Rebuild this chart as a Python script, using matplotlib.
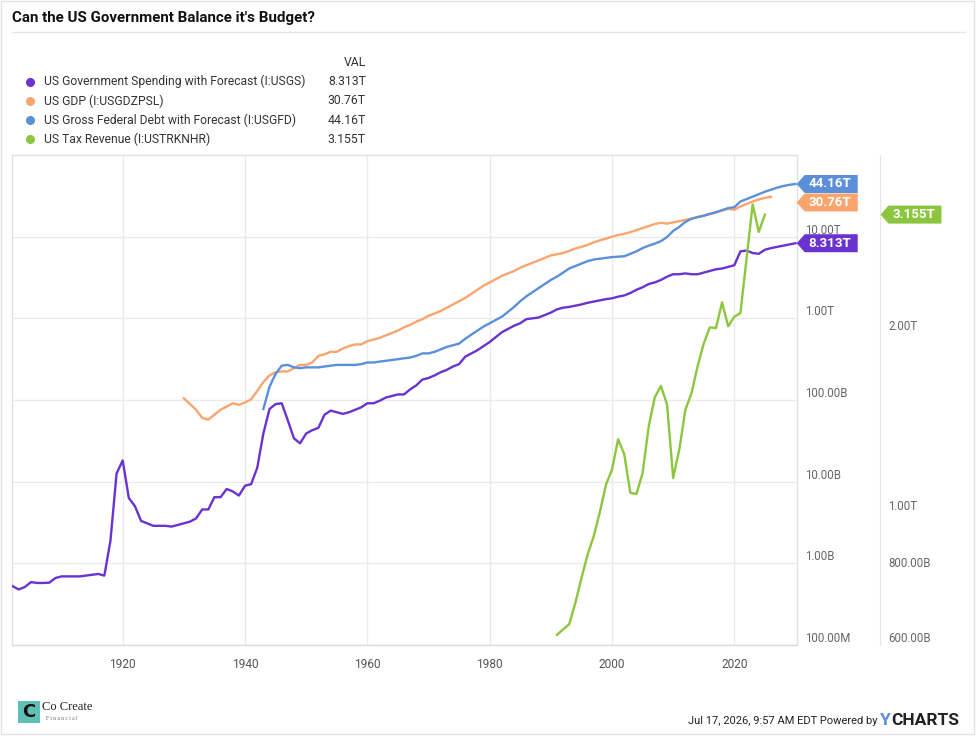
import numpy as np
import matplotlib
matplotlib.use("Agg")
import matplotlib.pyplot as plt
from matplotlib.patches import Polygon, Rectangle
from matplotlib.lines import Line2D
from matplotlib.ticker import FixedLocator, FuncFormatter, NullLocator

plt.rcParams['font.family'] = ['Roboto', 'DejaVu Sans']

# -----------------------------------------------------------------
# Donnees (en milliards de USD)
# -----------------------------------------------------------------
spend_years = list(range(1902, 2031))
spend_b = [
    0.525, 0.479, 0.513, 0.589, 0.575, 0.575, 0.58, 0.661,                 # 1902-1909
    0.692, 0.692, 0.692, 0.692, 0.708, 0.724, 0.741, 0.708, 1.905, 12.6,   # 1910s
    18.2, 6.31, 5.01, 3.31, 3.09, 2.88, 2.88, 2.88, 2.82, 2.95,            # 1920s
    3.09, 3.24, 3.55, 4.57, 4.57, 6.46, 6.46, 8.13, 7.59, 6.76,            # 1930s
    8.91, 9.33, 14.8, 38.9, 77.6, 89.1, 91.2, 56.2, 33.9, 29.5,            # 1940s
    38.9, 42.7, 45.7, 66.1, 74.1, 70.8, 67.6, 70.8, 75.9, 81.3,            # 1950s
    91.2, 91.2, 97.7, 107, 112, 117, 117, 135, 151, 178,                   # 1960s
    186, 200, 219, 234, 257, 275, 339, 372, 407, 457,                      # 1970s
    513, 589, 676, 741, 813, 871, 977, 1000, 1023, 1096,                   # 1980s
    1175, 1288, 1349, 1380, 1429, 1479, 1549, 1603, 1660, 1718,            # 1990s
    1758, 1841, 1905, 2042, 2239, 2399, 2630, 2754, 2951, 3236,            # 2000s
    3467, 3467, 3548, 3467, 3467, 3631, 3802, 3981, 4074, 4266,            # 2010s
    4467, 6607, 6761, 6310, 6166, 6918, 7244, 7499, 7762, 8035, 8313,      # 2020-2030
]

gdp_years = list(range(1930, 2027))
gdp_b = [
    104.7, 89.1, 75.9, 60.3, 57.5, 66.1, 75.9, 83.2, 91.2, 87.1,
    93.3, 102, 129, 166, 200, 219, 224, 224, 245, 269,
    269, 288, 347, 363, 389, 389, 427, 457, 479, 479,
    525, 550, 575, 617, 661, 708, 776, 832, 912, 977,
    1072, 1148, 1230, 1349, 1479, 1622, 1778, 1995, 2239, 2512,
    2754, 3020, 3311, 3548, 3802, 4169, 4467, 4786, 5129, 5495,
    5888, 6095, 6310, 6683, 7161, 7499, 7943, 8511, 9016, 9441,
    10000, 10471, 10839, 11350, 12023, 12735, 13490, 14289, 14791, 14454,
    14962, 15488, 16032, 16596, 17378, 18197, 18836, 19724, 20893, 21878,
    21380, 23442, 25119, 26915, 28510, 29854, 30760,
]

debt_years = list(range(1943, 2031))
debt_b = [
    77.6, 145, 209, 263, 269, 251, 245,
    251, 251, 251, 257, 263, 269, 269, 269, 269, 275,
    288, 288, 295, 302, 309, 316, 324, 331, 347, 372,
    372, 389, 417, 447, 468, 490, 562, 631, 708, 794,
    871, 955, 1047, 1202, 1380, 1622, 1862, 2089, 2344, 2630,
    2951, 3236, 3631, 4074, 4365, 4677, 5012, 5248, 5370, 5495,
    5623, 5689, 5754, 6166, 6607, 7244, 7762, 8222, 8810, 9900,
    11749, 13183, 15136, 16596, 17378, 17989, 19055, 19953, 21135, 22387,
    22909, 26915, 28840, 30903, 33113, 35481, 37584, 39811, 41687, 43152, 44160,
]

tax_years = [1991, 1993, 1994, 1995, 1996, 1997, 1998, 1999, 2000, 2001,
             2002, 2003, 2004, 2005, 2006, 2007, 2008, 2009, 2010, 2011,
             2012, 2013, 2014, 2015, 2016, 2017, 2018, 2019, 2020, 2021,
             2023, 2024, 2025]
tax_b = [624, 650, 705, 776, 849, 912, 1000, 1112, 1180, 1327,
         1253, 1079, 1074, 1164, 1393, 1560, 1629, 1517, 1143, 1274,
         1486, 1585, 1758, 1919, 2042, 2037, 2249, 2051, 2128, 2158,
         3281, 2951, 3155]

series_names = ['US Government Spending with Forecast (I:USGS)',
                'US GDP (I:USGDZPSL)',
                'US Gross Federal Debt with Forecast (I:USGFD)',
                'US Tax Revenue (I:USTRKNHR)']
series_colors = ['#6a33cf', '#f9a56d', '#5b8fda', '#8cc63f']

left_ticks = [1e8, 1e9, 1e10, 1e11, 1e12, 1e13]
right_ticks = [6e11, 8e11, 1e12, 2e12]
year_ticks = [1920, 1940, 1960, 1980, 2000, 2020]

W, H = 976, 736


def fmt_money(v, pos=None):
    if v >= 1e12:
        return f"{v/1e12:.2f}T"
    if v >= 1e9:
        return f"{v/1e9:.2f}B"
    return f"{v/1e6:.2f}M"


def fmt_last(v):
    # 4 chiffres significatifs, en T
    t = v / 1e12
    return f"{t:.4g}T"


fig = plt.figure(figsize=(W / 100, H / 100), dpi=100)
fig.patch.set_facecolor('white')

# cadre exterieur
fig.add_artist(Rectangle((1 / W, 2 / H), 973 / W, 733 / H, fill=False,
                         edgecolor='#e4e4e4', lw=1.0, transform=fig.transFigure))

# titre + filet
fig.text(12 / W, 1 - 18 / H, "Can the US Government Balance it's Budget?",
         fontsize=10.9, fontweight='bold', color='#111111', va='center', ha='left')
fig.add_artist(Line2D([12 / W, 965 / W], [1 - 31.5 / H, 1 - 31.5 / H],
                      color='#e6e6e6', lw=1.0, transform=fig.transFigure))

# -----------------------------------------------------------------
# Axes principaux
# -----------------------------------------------------------------
ax_l, ax_r, ax_t, ax_b = 11.7, 796.7, 155, 645
ax = fig.add_axes([ax_l / W, 1 - ax_b / H, (ax_r - ax_l) / W, (ax_b - ax_t) / H])
ax.set_yscale('log')
ax.set_xlim(1901.85, 2030.2)
ax.set_ylim(1e8, 1e14)

spend = np.array(spend_b) * 1e9
gdp = np.array(gdp_b) * 1e9
debt = np.array(debt_b) * 1e9
tax = np.array(tax_b) * 1e9

ax.plot(spend_years, spend, color=series_colors[0], lw=1.7, zorder=4)
ax.plot(gdp_years, gdp, color=series_colors[1], lw=1.7, zorder=3)
ax.plot(debt_years, debt, color=series_colors[2], lw=1.7, zorder=3)

# Axe droit pour les recettes fiscales (twinx remet les ticks de ax a gauche)
ax2 = ax.twinx()
ax2.set_yscale('log')
ax2.set_ylim(6e11, 3.97e12)
ax2.plot(tax_years, tax, color=series_colors[3], lw=1.7, zorder=5)

ax.xaxis.set_major_locator(FixedLocator(year_ticks))
ax.yaxis.set_major_locator(FixedLocator(left_ticks))
ax.yaxis.set_minor_locator(NullLocator())
ax.yaxis.set_major_formatter(FuncFormatter(fmt_money))
ax.yaxis.tick_right()
ax.tick_params(axis='y', length=0, pad=6, labelsize=8.3, labelcolor='#666666')
ax.tick_params(axis='x', length=0, pad=9, labelsize=8.6, labelcolor='#555555')
ax.grid(True, color='#ebebeb', lw=1.0)
ax.set_axisbelow(True)
for side in ['left', 'right', 'top', 'bottom']:
    ax.spines[side].set_color('#e2e2e2')
    ax.spines[side].set_linewidth(1.0)
ax.spines['bottom'].set_color('#dadada')

ax2.yaxis.set_major_locator(FixedLocator(right_ticks))
ax2.yaxis.set_minor_locator(NullLocator())
ax2.yaxis.set_major_formatter(FuncFormatter(fmt_money))
ax2.tick_params(axis='y', length=0, pad=6, labelsize=8.3, labelcolor='#666666')
ax2.spines['right'].set_position(('axes', (880 - ax_l) / (ax_r - ax_l)))
ax2.spines['right'].set_color('#e6e6e6')
for side in ['left', 'top', 'bottom']:
    ax2.spines[side].set_visible(False)

plt.setp(ax.get_yticklabels(), va='bottom')
plt.setp(ax2.get_yticklabels(), va='bottom')

# -----------------------------------------------------------------
# Legende (en haut a gauche)
# -----------------------------------------------------------------
last_vals = [spend[-1], gdp[-1], debt[-1], tax[-1]]
fig.text(366 / W, 1 - 62 / H, 'VAL', fontsize=8.8, color='#333333',
         ha='right', va='center')
for i, (name, col, v) in enumerate(zip(series_names, series_colors, last_vals)):
    yy = 1 - (81.7 + i * 19.2) / H
    fig.add_artist(Line2D([30 / W], [yy], marker='o', ms=5.5, color=col,
                          lw=0, transform=fig.transFigure))
    fig.text(44 / W, yy, name, fontsize=8.7, color='#333333', ha='left', va='center')
    fig.text(366 / W, yy, fmt_last(v), fontsize=8.8, color='#333333',
             ha='right', va='center')

# -----------------------------------------------------------------
# Etiquettes en drapeau (valeurs finales)
# -----------------------------------------------------------------
def draw_flag(x_tip, y_c, text, color):
    hh = 9.0
    pts = [(x_tip, y_c), (x_tip + 8, y_c - hh), (x_tip + 61, y_c - hh),
           (x_tip + 61, y_c + hh), (x_tip + 8, y_c + hh)]
    pts = [(px / W, 1 - py / H) for px, py in pts]
    fig.add_artist(Polygon(pts, closed=True, facecolor=color, edgecolor='none',
                           transform=fig.transFigure, zorder=10))
    fig.text((x_tip + 33) / W, 1 - y_c / H, text, fontsize=9.6, fontweight='bold',
             color='white', ha='center', va='center', zorder=11)


def y_from_top(axis, v):
    return H - axis.transData.transform((2000, v))[1]


flags = [(y_from_top(ax, v), fmt_last(v), c)
         for v, c in zip([debt[-1], gdp[-1], spend[-1]],
                         [series_colors[2], series_colors[1], series_colors[0]])]
flags.sort(key=lambda f: f[0])
prev = -1e9
for yc, txt, col in flags:
    yc = max(yc, prev + 18.5)
    draw_flag(ax_r, yc, txt, col)
    prev = yc
draw_flag(880.5, y_from_top(ax2, tax[-1]), fmt_last(tax[-1]), series_colors[3])

# -----------------------------------------------------------------
# Pied de page
# -----------------------------------------------------------------
fig.add_artist(Rectangle((18.3 / W, 1 - 723 / H), 21.7 / W, 22 / H,
                         facecolor='#5fc0b6', edgecolor='none',
                         transform=fig.transFigure))
fig.text(29 / W, 1 - 712 / H, 'C', fontsize=13, fontweight='bold', color='#111111',
         ha='center', va='center', family='DejaVu Sans')
fig.text(42 / W, 1 - 707 / H, 'Co Create', fontsize=9, color='#222222',
         ha='left', va='center', family='Liberation Serif')
fig.text(46 / W, 1 - 718 / H, 'F i n a n c i a l', fontsize=4, color='#666666',
         ha='left', va='center', family='Liberation Serif')

fig.text(877 / W, 1 - 720.5 / H, 'Jul 17, 2026, 9:57 AM EDT Powered by',
         fontsize=8, color='#222222', ha='right', va='center')
fig.text(880 / W, 1 - 720.5 / H, 'Y', fontsize=12.5, fontweight='bold',
         color='#5b8fda', ha='left', va='center')
fig.text(891 / W, 1 - 720.5 / H, 'CHARTS', fontsize=12.5, fontweight='bold',
         color='#222222', ha='left', va='center')

fig.savefig('out.png', dpi=100, facecolor='white')
